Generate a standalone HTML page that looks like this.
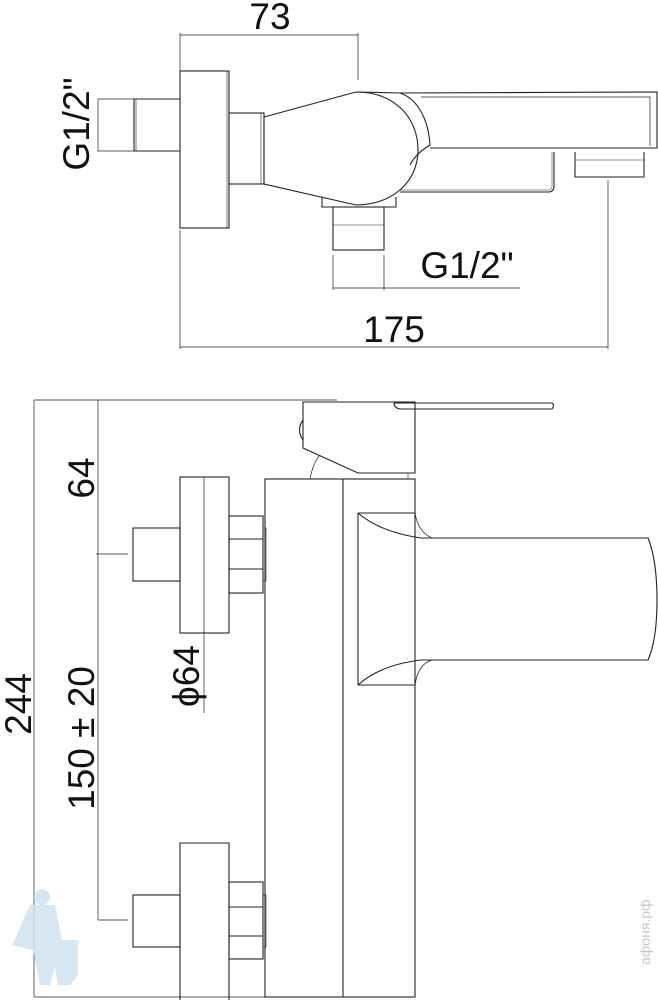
<!DOCTYPE html>
<html><head><meta charset="utf-8"><style>
html,body{margin:0;padding:0;background:#fff;}
svg{display:block;}
text{font-family:"Liberation Sans",sans-serif;fill:#111;}
</style></head><body>
<svg width="658" height="1000" viewBox="0 0 658 1000" xmlns="http://www.w3.org/2000/svg">
<g fill="none" stroke="#222" stroke-width="1.1">
<!-- TOP VIEW -->
<!-- 73 dimension -->
<line x1="180" y1="35" x2="358" y2="35" stroke-width="0.7"/>
<line x1="180" y1="33" x2="180" y2="71" stroke-width="0.7"/>
<line x1="358" y1="33" x2="358" y2="80" stroke-width="0.7"/>
<!-- flange -->
<rect x="180" y="71" width="49" height="157"/>
<line x1="227" y1="71" x2="227" y2="228" stroke-width="0.6"/>
<!-- left pipe -->
<path d="M180 99 H134 V151 H180"/>
<line x1="136" y1="99" x2="136" y2="151" stroke-width="0.6"/>
<path d="M134 99 H98 V151 H134" stroke-width="0.7"/>
<!-- nut -->
<rect x="229" y="113" width="35" height="71"/>
<line x1="261" y1="113" x2="261" y2="184" stroke-width="0.6"/>
<!-- body -->
<path d="M264 117 L356 92 C395 92 418 118 418 150 C418 182 392 205 356 205 L264 184 Z"/>
<path d="M356 92 L400 93 C415 98 428 115 430 145 C425 148 415 155 410 165"/>
<!-- spout -->
<path d="M400 93 L657 92 V148 H430"/>
<path d="M421 97 H650 V146" stroke-width="0.7"/>
<!-- rod -->
<path d="M400 192 H548 Q554 192 554 186 V152"/>
<path d="M400 190 H548 Q552 190 552 186 V152" stroke-width="0.5"/>
<!-- aerator -->
<path d="M575 152 V177 H644 V152"/>
<line x1="575" y1="160" x2="644" y2="160" stroke-width="0.6"/>
<!-- bottom fitting -->
<path d="M322 197 V207 H396 V197"/>
<rect x="333" y="207" width="51" height="43"/>
<line x1="333" y1="225" x2="384" y2="225" stroke-width="0.6"/>
<line x1="333" y1="255" x2="333" y2="290" stroke-width="0.7"/>
<line x1="384" y1="255" x2="384" y2="290" stroke-width="0.7"/>
<line x1="333" y1="288" x2="520" y2="288" stroke-width="0.7"/>
<!-- 175 dim -->
<line x1="180" y1="230" x2="180" y2="349" stroke-width="0.7"/>
<line x1="608" y1="180" x2="608" y2="349" stroke-width="0.7"/>
<line x1="180" y1="347" x2="608" y2="347" stroke-width="0.7"/>

<!-- SIDE VIEW -->
<line x1="34" y1="400" x2="337" y2="400" stroke-width="0.7"/>
<line x1="34" y1="400" x2="34" y2="997" stroke-width="0.7"/>
<line x1="34" y1="997" x2="415" y2="997" stroke-width="0.7"/>
<line x1="98" y1="400" x2="98" y2="920" stroke-width="0.7"/>
<line x1="96" y1="554" x2="128" y2="554" stroke-width="0.7"/>
<line x1="98" y1="920" x2="128" y2="920" stroke-width="0.7"/>
<!-- upper flange -->
<rect x="180" y="477" width="49" height="156"/>
<line x1="204" y1="477" x2="204" y2="713" stroke-width="0.7"/>
<rect x="133" y="528" width="47" height="53"/>
<rect x="229" y="516" width="34" height="77"/>
<line x1="229" y1="539" x2="263" y2="539"/>
<line x1="229" y1="569" x2="263" y2="569"/>
<rect x="263" y="528" width="3" height="53" stroke-width="0.6"/>
<!-- lower flange -->
<path d="M180 1000 V843 H229 V1000"/>
<rect x="133" y="895" width="47" height="52"/>
<rect x="229" y="882" width="34" height="77"/>
<line x1="229" y1="907" x2="263" y2="907"/>
<line x1="229" y1="936" x2="263" y2="936"/>
<rect x="263" y="895" width="3" height="52" stroke-width="0.6"/>
<!-- body -->
<rect x="265" y="479" width="150" height="518"/>
<line x1="343" y1="479" x2="343" y2="997"/>
<!-- handle -->
<path d="M303 402 V448 L358 473 H415 V402 Z"/>
<path d="M303 420 Q296 430 303 440"/>
<path d="M310 479 Q313 463 320 455" stroke-width="0.7"/>
<path d="M394 403 H552 Q555 405 552 409 H400 Q394 408 394 403" />
<line x1="408" y1="473" x2="408" y2="479" stroke-width="0.6"/>
<!-- spout -->
<path d="M358 513 V685 M358 513 H415 M358 685 H415"/>
<path d="M358 513 Q380 532 421 538 H648 Q657 560 657 600 Q657 640 648 660 H421 Q380 665 358 685"/>
<path d="M415 513 Q418 532 432 538 M415 685 Q418 664 432 660" stroke-width="0.8"/>
</g>

<!-- TEXT -->
<text x="270" y="29" font-size="37" text-anchor="middle">73</text>
<text transform="translate(89,124) rotate(-90)" font-size="37" text-anchor="middle">G1/2"</text>
<text x="467" y="278" font-size="37" text-anchor="middle">G1/2"</text>
<text x="394" y="342" font-size="37" text-anchor="middle">175</text>
<text transform="translate(94,478) rotate(-90)" font-size="37" text-anchor="middle">64</text>
<text transform="translate(31,704) rotate(-90)" font-size="37" text-anchor="middle">244</text>
<text transform="translate(94,738) rotate(-90)" font-size="37" text-anchor="middle">150 ± 20</text>
<text transform="translate(199,676) rotate(-90)" font-size="37" text-anchor="middle">ϕ64</text>

<!-- watermark -->
<g fill="#cfe3f2" opacity="0.85">
<circle cx="42" cy="897" r="8"/>
<path d="M30 905 L55 905 L62 940 L50 985 L40 985 L33 950 L12 945 Z"/>
<path d="M50 940 H78 V975 L70 985 H58 Z"/>
</g>
<text transform="translate(650,965) rotate(-90)" font-size="14" fill="#c8c8c8" style="fill:#c8c8c8">афоня.рф</text>
</svg>
</body></html>
